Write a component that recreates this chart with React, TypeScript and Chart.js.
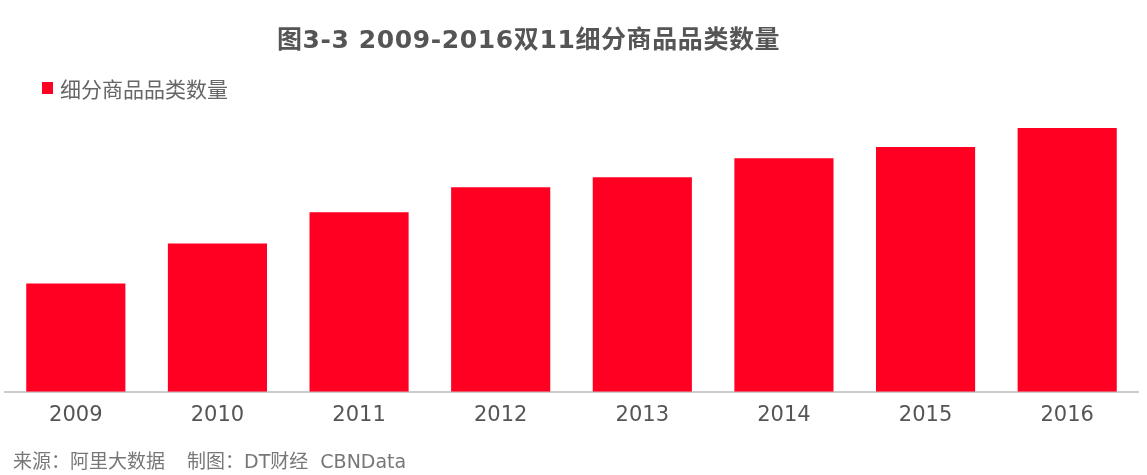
import React, { useEffect, useRef } from "react";
import { Chart, registerables } from "chart.js";

Chart.register(...registerables);

const years = ["2009", "2010", "2011", "2012", "2013", "2014", "2015", "2016"];
const counts = [108, 148, 179, 204, 214, 233, 244, 263];
const seriesName = "细分商品品类数量";
const titleText = "图3-3 2009-2016双11细分商品品类数量";
const footerSource = "来源：阿里大数据";
const footerMaker = "制图：DT财经  CBNData";

const CJK = "'Noto Sans CJK SC', sans-serif";
const MIX = "'DejaVu Sans', 'Noto Sans CJK SC', sans-serif";
const RED = "#FF0022";

export default function App() {
  const ref = useRef<HTMLCanvasElement | null>(null);

  useEffect(() => {
    if (!ref.current) return;
    const chart = new Chart(ref.current, {
      type: "bar",
      data: {
        labels: years,
        datasets: [
          {
            label: seriesName,
            data: counts,
            backgroundColor: RED,
            barPercentage: 0.7,
            categoryPercentage: 1,
          },
        ],
      },
      options: {
        animation: false,
        responsive: false,
        maintainAspectRatio: false,
        layout: { padding: { left: 5, right: 9, bottom: 36, top: 111 } },
        plugins: {
          legend: { display: false },
          tooltip: { enabled: false },
          title: { display: false },
        },
        scales: {
          x: {
            grid: { display: false, drawTicks: false },
            border: { display: true, color: "#CCCCCC", width: 2 },
            ticks: {
              color: "#555555",
              font: { family: "'DejaVu Sans', sans-serif", size: 21 },
              padding: 11,
            },
          },
          y: {
            display: false,
            min: 0,
            max: 280,
          },
        },
      },
    });
    return () => chart.destroy();
  }, []);

  return (
    <div style={{ position: "absolute", top: 0, left: 0, width: 1147, height: 475, background: "#fff" }}>
      <canvas ref={ref} width={1147} height={475} style={{ position: "absolute", top: 0, left: 0 }} />
      <div
        style={{
          position: "absolute",
          left: 277,
          top: 24,
          fontFamily: MIX,
          fontSize: 25,
          fontWeight: "bold",
          color: "#555555",
          lineHeight: "32px",
          letterSpacing: "0.6px",
          whiteSpace: "pre",
        }}
      >
        {titleText}
      </div>
      <div
        style={{
          position: "absolute",
          left: 42,
          top: 74,
          display: "flex",
          alignItems: "center",
          fontFamily: CJK,
          fontSize: 21,
          color: "#666666",
          lineHeight: "28px",
        }}
      >
        <span style={{ display: "inline-block", width: 11, height: 12, background: RED, marginRight: 7 }} />
        <span>{seriesName}</span>
      </div>
      <div
        style={{
          position: "absolute",
          left: 13,
          top: 448,
          fontFamily: MIX,
          fontSize: 19,
          color: "#777777",
          lineHeight: "26px",
          whiteSpace: "pre",
        }}
      >
        <span>{footerSource}</span>
        <span style={{ display: "inline-block", width: 22 }} />
        <span>{footerMaker}</span>
      </div>
    </div>
  );
}
